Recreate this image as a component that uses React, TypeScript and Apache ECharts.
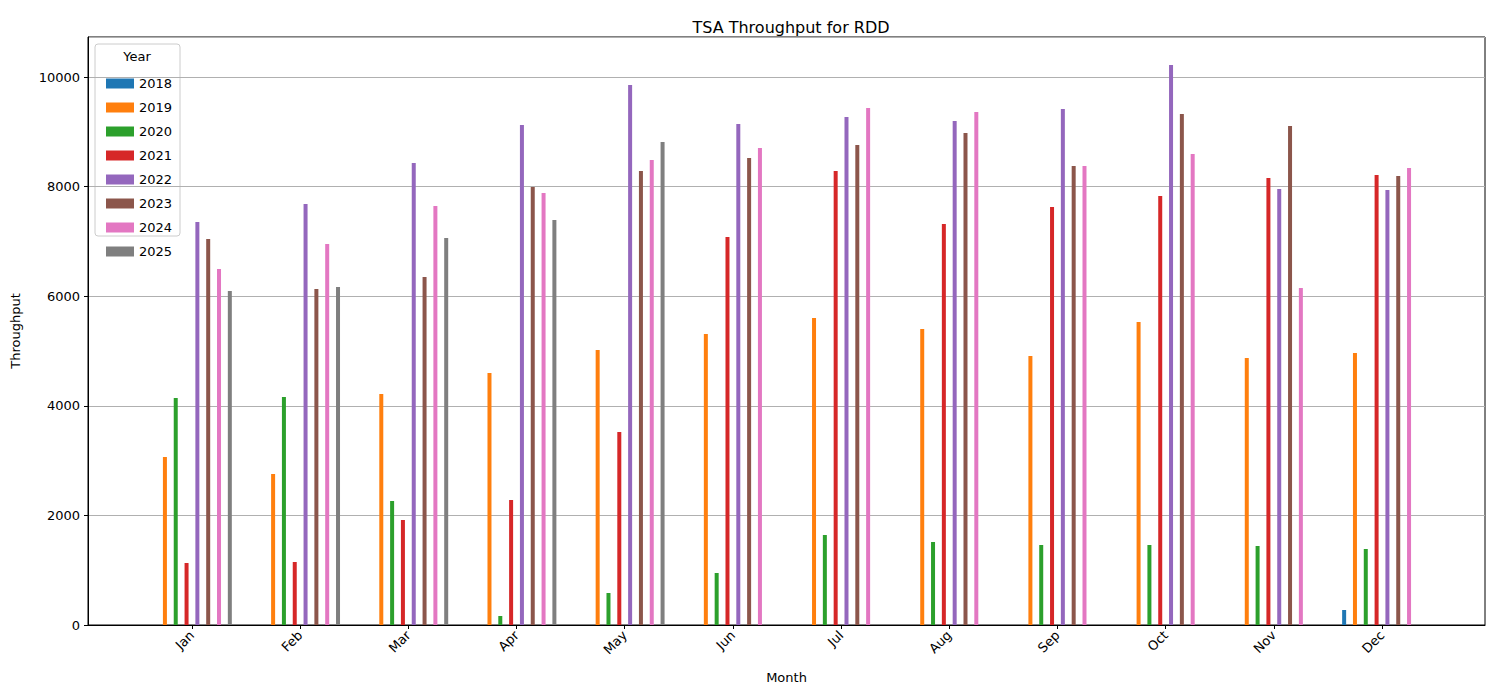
import { useEffect, useRef } from 'react'
import * as echarts from 'echarts'

const months = ['Jan', 'Feb', 'Mar', 'Apr', 'May', 'Jun', 'Jul', 'Aug', 'Sep', 'Oct', 'Nov', 'Dec']
const years = ['2018', '2019', '2020', '2021', '2022', '2023', '2024', '2025']
const colors = ['#1f77b4', '#ff7f0e', '#2ca02c', '#d62728', '#9467bd', '#8c564b', '#e377c2', '#7f7f7f']

// null = no value for that month
const y2018 = [null, null, null, null, null, null, null, null, null, null, null, 274]
const y2019 = [3066, 2755, 4215, 4599, 5018, 5310, 5602, 5401, 4909, 5529, 4872, 4964]
const y2020 = [4142, 4160, 2263, 164, 584, 949, 1642, 1515, 1460, 1460, 1442, 1387]
const y2021 = [1131, 1150, 1916, 2281, 3522, 7080, 8285, 7318, 7628, 7828, 8157, 8212]
const y2022 = [7354, 7682, 8430, 9124, 9854, 9142, 9270, 9197, 9416, 10219, 7956, 7938]
const y2023 = [7044, 6131, 6350, 7993, 8285, 8522, 8759, 8978, 8376, 9325, 9106, 8193]
const y2024 = [6496, 6952, 7646, 7883, 8485, 8704, 9434, 9361, 8376, 8595, 6150, 8339]
const y2025 = [6095, 6168, 7062, 7390, 8814, null, null, null, null, null, null, null]
const values = [y2018, y2019, y2020, y2021, y2022, y2023, y2024, y2025]

export default function App() {
  const ref = useRef<HTMLDivElement>(null)

  useEffect(() => {
    if (!ref.current) return
    const chart = echarts.init(ref.current, undefined, { renderer: 'svg' })
    const font = 'DejaVu Sans'
    chart.setOption({
      animation: false,
      textStyle: { fontFamily: font, color: '#000' },
      title: {
        text: 'TSA Throughput for RDD',
        left: 786,
        top: 14,
        textAlign: 'center',
        textStyle: { fontFamily: font, fontSize: 16, fontWeight: 'normal', color: '#000' },
      },
      grid: {
        left: 88, right: 15, top: 37, bottom: 75,
        show: true, borderColor: '#000', borderWidth: 1, backgroundColor: 'transparent',
      },
      legend: {
        orient: 'vertical',
        left: 101,
        top: 72,
        itemWidth: 28,
        itemHeight: 10,
        itemGap: 11,
        icon: 'rect',
        data: years,
        textStyle: { fontFamily: font, fontSize: 13, color: '#000' },
      },
      graphic: [
        {
          type: 'rect',
          shape: { x: 95, y: 44, width: 85, height: 192, r: 3 },
          style: { fill: 'rgba(255,255,255,0.8)', stroke: '#ccc', lineWidth: 1 },
          z: 0,
        },
        {
          type: 'text',
          x: 137, y: 50,
          style: { text: 'Year', fontFamily: font, fontSize: 13, fill: '#000', textAlign: 'center' },
        },
      ],
      xAxis: {
        type: 'value',
        min: -0.961,
        max: 11.952,
        name: 'Month',
        nameLocation: 'middle',
        nameGap: 46,
        nameTextStyle: { fontFamily: font, fontSize: 13, color: '#000' },
        splitLine: { show: false },
        axisLine: { show: true, onZero: false, lineStyle: { color: '#000' } },
        axisTick: { show: true, customValues: months.map((_, i) => i), length: 4, lineStyle: { color: '#000' } },
        axisLabel: {
          customValues: months.map((_, i) => i),
          formatter: (v: number) => months[Math.round(v)] ?? '',
          rotate: 45,
          fontFamily: font,
          fontSize: 13,
          color: '#000',
          margin: 8,
        },
      },
      yAxis: {
        type: 'value',
        min: 0,
        max: 10730,
        interval: 2000,
        name: 'Throughput',
        nameLocation: 'middle',
        nameGap: 66,
        nameTextStyle: { fontFamily: font, fontSize: 13, color: '#000' },
        axisLine: { show: true, onZero: false, lineStyle: { color: '#000' } },
        axisTick: { show: true, length: 4, lineStyle: { color: '#000' } },
        axisLabel: {
          fontFamily: font, fontSize: 13, color: '#000', showMaxLabel: false,
          formatter: (v: number) => String(v),
        },
        splitLine: { show: true, lineStyle: { color: '#b0b0b0', width: 1 } },
      },
      series: years.map((y, k) => ({
        name: y,
        type: 'bar',
        barWidth: 4,
        barGap: '-100%',
        itemStyle: { color: colors[k] },
        data: values[k]
          .map((v, i) => (v == null ? null : [i + (k - 3.5) * 0.1, v]))
          .filter((d) => d !== null),
      })),
    })
    return () => chart.dispose()
  }, [])

  return <div ref={ref} style={{ position: 'absolute', left: 0, top: 0, width: 1500, height: 700 }} />
}
